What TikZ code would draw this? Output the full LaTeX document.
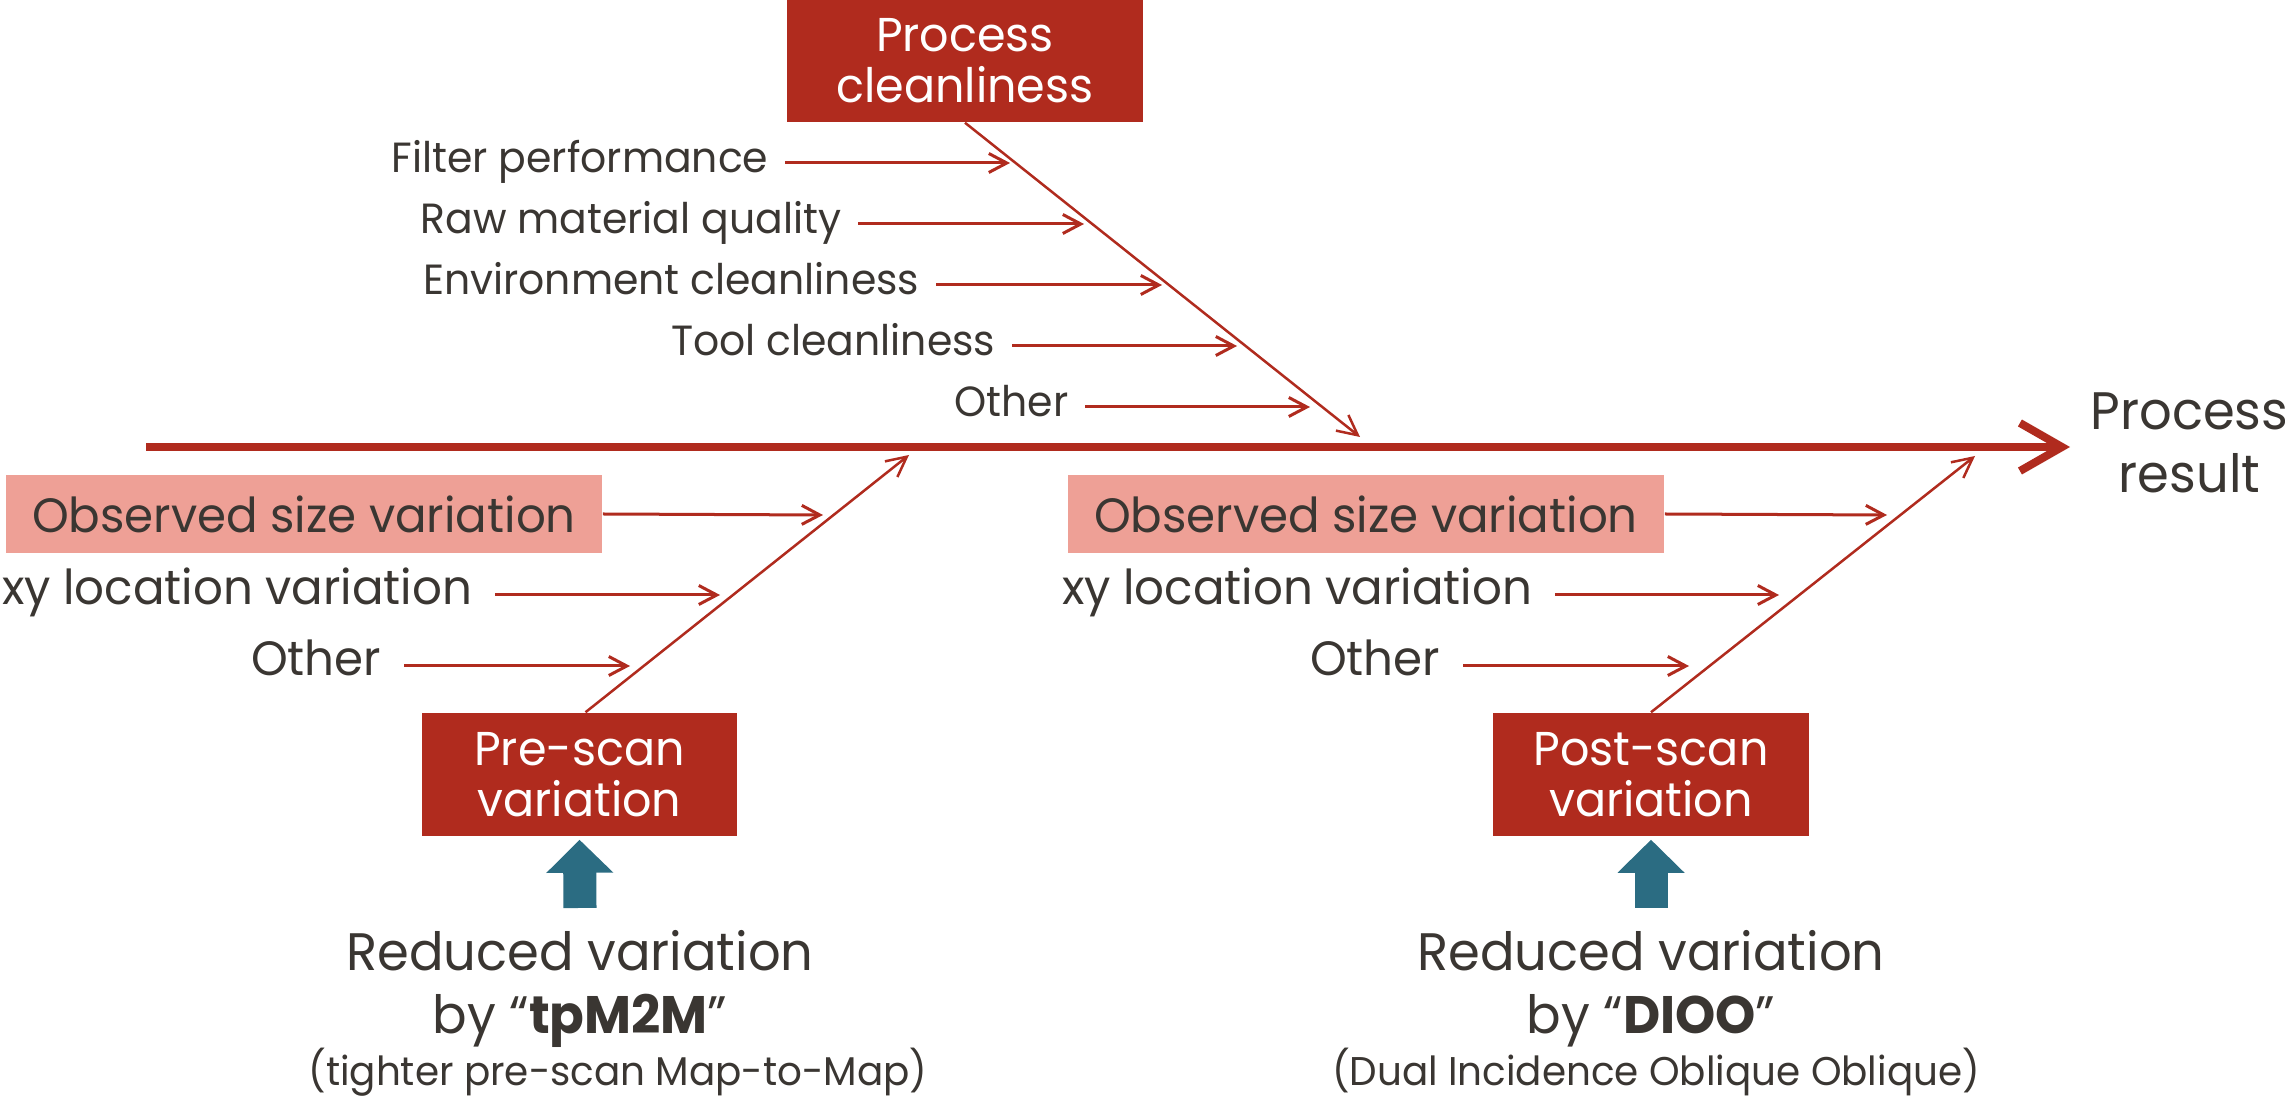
\documentclass[tikz,border=0pt]{standalone}
\usepackage{fontspec}
\setmainfont{Poppins}[FakeStretch=0.97]
\usetikzlibrary{arrows.meta,positioning}
\definecolor{fishred}{RGB}{176,43,30}
\definecolor{fishpink}{RGB}{238,160,150}
\definecolor{liftteal}{RGB}{43,108,130}
\definecolor{inkgray}{RGB}{58,54,50}
\begin{document}
\begin{tikzpicture}[
        x=0.01cm, y=-0.01cm,
        spine/.style={draw=fishred, line width=0.08cm, -{Straight Barb[length=0.42cm,width=0.48cm]}},
        bone/.style={draw=fishred, line width=0.025cm, -{Straight Barb[length=0.2cm,width=0.2cm]}},
        twig/.style={draw=fishred, line width=0.03cm, -{Straight Barb[length=0.18cm,width=0.19cm]}},
        lift/.style={draw=liftteal, line width=0.33cm, -{Triangle[length=0.33cm,width=0.65cm]}},
        catbox/.style={fill=fishred, text=white, align=center, inner sep=0pt,
            font=\fontsize{13.5}{14.5}\selectfont},
        obsbox/.style={fill=fishpink, text=inkgray, minimum width=5.96cm, minimum height=0.78cm,
            inner sep=0pt, font=\fontsize{13.7}{16}\selectfont},
        causetop/.style={text=inkgray, anchor=east, inner xsep=0.16cm, inner ysep=0pt,
            text height=0.75em, text depth=0.2em, font=\fontsize{12}{14}\selectfont},
        causelow/.style={causetop, inner xsep=0.22cm, font=\fontsize{13.7}{16}\selectfont},
        big/.style={text=inkgray, align=center, inner sep=0pt, font=\fontsize{15}{17.9}\selectfont},
        note/.style={text=inkgray, inner sep=0pt, font=\fontsize{11.4}{13}\selectfont}
    ]
    \useasboundingbox (0,0) rectangle (2285,1098);

    % Hauptgraete
    \coordinate (tail) at (146,447);
    \coordinate (head) at (2070,447);
    \draw[spine] (tail) -- (head);
    \node[big, anchor=west] (res) at (2090,443) {Process\\result};

    % Prozesssauberkeit
    \node[catbox, minimum width=3.56cm, minimum height=1.22cm] (pc) at (965,61) {Process\\cleanliness};
    \coordinate (pcTip) at (1360,437);
    \draw[bone] (pc.south) -- (pcTip);

    \node[causetop] (filt) at (785,163) {Filter performance};
    \node[causetop] (raw) at (858,224) {Raw material quality};
    \node[causetop] (env) at (936,285) {Environment cleanliness};
    \node[causetop] (tool) at (1012,346) {Tool cleanliness};
    \node[causetop] (othC) at (1085,407) {Other};
    \coordinate (filtTip) at (1010,163);
    \coordinate (rawTip) at (1084,224);
    \coordinate (envTip) at (1162,285);
    \coordinate (toolTip) at (1237,346);
    \coordinate (othCTip) at (1310,407);
    \draw[twig] (filt.east) -- (filtTip);
    \draw[twig] (raw.east) -- (rawTip);
    \draw[twig] (env.east) -- (envTip);
    \draw[twig] (tool.east) -- (toolTip);
    \draw[twig] (othC.east) -- (othCTip);

    % Pre-scan
    \node[catbox, minimum width=3.15cm, minimum height=1.23cm] (pre) at (579.5,774.5) {Pre-scan\\variation};
    \coordinate (preTip) at (909,455);
    \draw[bone] ([xshift=0.06cm]pre.north) -- (preTip);

    \node[obsbox] (obsA) at (304,514) {Observed size variation};
    \node[causelow] (xyA) at (495,595) {xy location variation};
    \node[causelow] (othA) at (404,666) {Other};
    \coordinate (obsATip) at (823,515);
    \coordinate (xyATip) at (720,595);
    \coordinate (othATip) at (630,666);
    \draw[twig] (obsA.east) -- (obsATip);
    \draw[twig] (xyA.east) -- (xyATip);
    \draw[twig] (othA.east) -- (othATip);

    % Post-scan
    \node[catbox, minimum width=3.16cm, minimum height=1.23cm] (post) at (1651,774.5) {Post-scan\\variation};
    \coordinate (postTip) at (1975,456);
    \draw[bone] (post.north) -- (postTip);

    \node[obsbox] (obsB) at (1366,514) {Observed size variation};
    \node[causelow] (xyB) at (1555,595) {xy location variation};
    \node[causelow] (othB) at (1463,666) {Other};
    \coordinate (obsBTip) at (1887,515);
    \coordinate (xyBTip) at (1779,595);
    \coordinate (othBTip) at (1689,666);
    \draw[twig] (obsB.east) -- (obsBTip);
    \draw[twig] (xyB.east) -- (xyBTip);
    \draw[twig] (othB.east) -- (othBTip);

    % Verbesserungen
    \node[big, anchor=north] (redA) at (580,930) {Reduced variation\\by “\textbf{tpM2M}”};
    \node[note, anchor=base] (noteA) at (618,1085) {(tighter pre-scan Map-to-Map)};
    \draw[lift] ([yshift=0.22cm]redA.north) -- ([yshift=-0.03cm]pre.south);

    \node[big, anchor=north] (redB) at (1651,930) {Reduced variation\\by “\textbf{DIOO}”};
    \node[note, anchor=base] (noteB) at (1656,1085) {(Dual Incidence Oblique Oblique)};
    \draw[lift] ([yshift=0.22cm]redB.north) -- ([yshift=-0.03cm]post.south);
\end{tikzpicture}
\end{document}
